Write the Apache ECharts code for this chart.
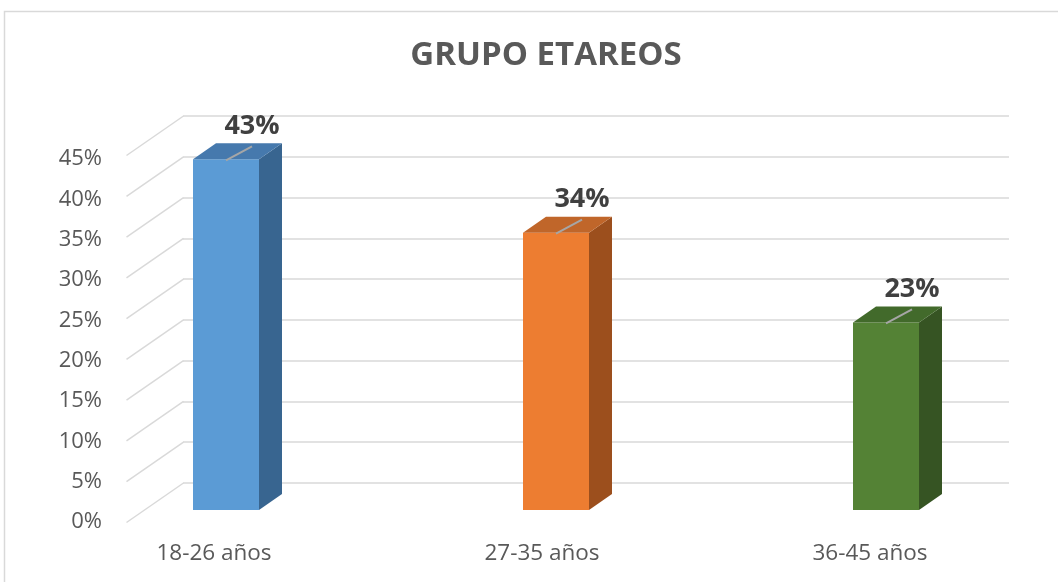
<!DOCTYPE html>
<html>
<head>
<meta charset="utf-8">
<script src="https://cdn.jsdelivr.net/npm/echarts@6/dist/echarts.min.js"></script>
<style>
  html, body { margin: 0; padding: 0; background: #fff; }
  #root { width: 1058px; height: 582px; }
</style>
</head>
<body>
<div id="root"></div>
<script>
const categories = ['18-26 años', '27-35 años', '36-45 años'];
const values = [43, 34, 23];
const yTicks = [0, 5, 10, 15, 20, 25, 30, 35, 40, 45];
const frontColors = ['#5b9bd5', '#ed7d31', '#548235'];
const topColors = ['#4679ad', '#c0662a', '#426a2b'];
const sideColors = ['#386590', '#9c4f1d', '#365423'];

// desplazamiento de profundidad (pared trasera / barra)
const wallDx = 57, wallDy = -39.5;
const barDx = 23, barDy = -16;

const font = '"Open Sans", sans-serif';

const chart = echarts.init(document.getElementById('root'));

const option = {
  animation: false,
  title: {
    text: 'GRUPO ETAREOS',
    left: 541,
    textAlign: 'center',
    top: 34,
    textStyle: { fontFamily: font, fontSize: 33, fontWeight: 'bold', color: '#595959' }
  },
  graphic: [{
    type: 'rect',
    shape: { x: 4.5, y: 11.5, width: 1100, height: 600 },
    style: { fill: 'none', stroke: '#d9d9d9', lineWidth: 1.5 },
    silent: true
  }],
  grid: [
    // pared trasera
    { left: 183, width: 826, top: 116, height: 367 },
    // plano frontal de las barras
    { left: 61, width: 990, top: 143, height: 367 },
    // plano frontal (etiquetas)
    { left: 110, width: 10, top: 159, height: 363 },
    { left: 50, width: 984, top: 159, height: 363 }
  ],
  xAxis: [
    { gridIndex: 0, type: 'category', data: categories, show: false },
    { gridIndex: 1, type: 'category', data: categories, show: false },
    { gridIndex: 2, type: 'category', data: [''], show: false },
    {
      gridIndex: 3, type: 'category', data: categories,
      axisLine: { show: false }, axisTick: { show: false },
      axisLabel: { margin: 20, fontFamily: font, fontSize: 22.5, color: '#595959' }
    }
  ],
  yAxis: [
    {
      gridIndex: 0, type: 'value', min: 0, max: 45, interval: 5,
      axisLabel: { show: false }, axisLine: { show: false }, axisTick: { show: false },
      splitLine: { lineStyle: { color: '#d9d9d9', width: 1.5 } }
    },
    { gridIndex: 1, type: 'value', min: 0, max: 45, interval: 5, show: false },
    {
      gridIndex: 2, type: 'value', min: 0, max: 45, interval: 5,
      axisLine: { show: false }, axisTick: { show: false }, splitLine: { show: false },
      axisLabel: { margin: 8, fontFamily: font, fontSize: 22, color: '#595959', formatter: '{value}%' }
    },
    { gridIndex: 3, type: 'value', min: 0, max: 45, interval: 5, show: false }
  ],
  series: [
    {
      // lineas diagonales de la pared lateral
      type: 'custom',
      xAxisIndex: 0,
      yAxisIndex: 0,
      data: yTicks.map(v => [0, v]),
      silent: true,
      renderItem: (params, api) => {
        const p = api.coord([0, api.value(1)]);
        const x0 = params.coordSys.x;
        return {
          type: 'line',
          shape: { x1: x0 + 0.5 - wallDx, y1: p[1] - wallDy, x2: x0 + 0.5, y2: p[1] },
          style: { stroke: '#d9d9d9', lineWidth: 1.5 }
        };
      }
    },
    {
      type: 'custom',
      xAxisIndex: 1,
      yAxisIndex: 1,
      data: values.map((v, i) => [i, v]),
      renderItem: (params, api) => {
        const i = api.value(0);
        const top = api.coord([i, api.value(1)]);
        const bot = api.coord([i, 0]);
        const w = api.size([1, 0])[0] * 0.2;
        const x = top[0] - w / 2;
        const y = top[1];
        return {
          type: 'group',
          children: [
            {
              type: 'rect',
              shape: { x: x, y: y, width: w, height: bot[1] - y },
              style: { fill: frontColors[i] }
            },
            {
              type: 'polygon',
              shape: { points: [[x + w, y], [x + w + barDx, y + barDy], [x + w + barDx, bot[1] + barDy], [x + w, bot[1]]] },
              style: { fill: sideColors[i] }
            },
            {
              type: 'polygon',
              shape: { points: [[x, y], [x + barDx, y + barDy], [x + w + barDx, y + barDy], [x + w, y]] },
              style: { fill: topColors[i] }
            },
            {
              type: 'line',
              shape: { x1: top[0], y1: y + 1, x2: top[0] + 26, y2: y - 13 },
              style: { stroke: '#a6a6a6', lineWidth: 2 }
            },
            {
              type: 'text',
              style: {
                x: top[0] + 26, y: y - 33,
                text: api.value(1) + '%',
                align: 'center', verticalAlign: 'middle',
                font: 'bold 27px ' + font,
                fill: '#404040'
              }
            }
          ]
        };
      }
    }
  ]
};

chart.setOption(option);
</script>
</body>
</html>
